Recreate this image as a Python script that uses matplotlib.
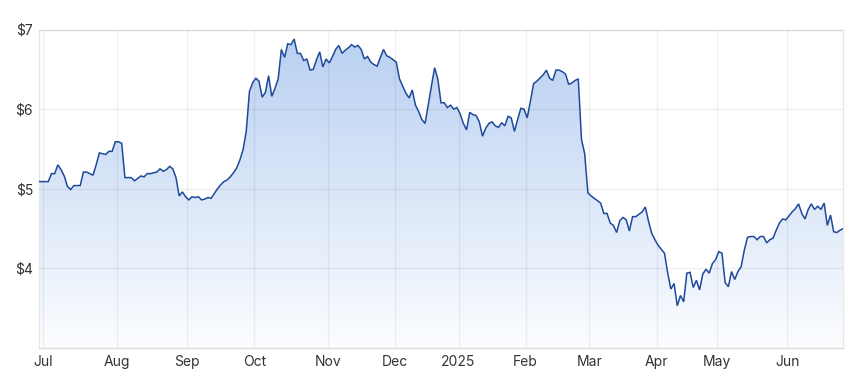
import numpy as np
import pandas as pd
import matplotlib
matplotlib.use("Agg")
import matplotlib.pyplot as plt
from matplotlib.colors import LinearSegmentedColormap

# ---- data (daily closes, ASX trading days) ----
start_date = "2024-06-27"
end_date = "2025-06-26"
holidays = ["2024-12-25", "2024-12-26", "2025-01-01", "2025-01-27",
            "2025-04-18", "2025-04-21", "2025-04-25", "2025-06-09"]

prices = [
    5.09, 5.09, 5.09, 5.09, 5.19, 5.19, 5.30, 5.24, 5.16, 5.03,
    4.99, 5.04, 5.04, 5.04, 5.21, 5.21, 5.19, 5.17, 5.30, 5.45,
    5.44, 5.43, 5.47, 5.47, 5.59, 5.59, 5.57, 5.14, 5.14, 5.14,
    5.10, 5.13, 5.16, 5.15, 5.19, 5.19, 5.20, 5.21, 5.25, 5.22,
    5.24, 5.28, 5.25, 5.14, 4.91, 4.96, 4.90, 4.86, 4.90, 4.89,
    4.90, 4.86, 4.87, 4.89, 4.88, 4.94, 5.00, 5.05, 5.09, 5.11,
    5.15, 5.20, 5.26, 5.36, 5.49, 5.72, 6.22, 6.33, 6.39, 6.35,
    6.15, 6.21, 6.42, 6.16, 6.26, 6.38, 6.75, 6.65, 6.82, 6.81,
    6.88, 6.70, 6.70, 6.61, 6.63, 6.49, 6.50, 6.62, 6.72, 6.53,
    6.63, 6.58, 6.66, 6.75, 6.80, 6.70, 6.74, 6.77, 6.81, 6.78,
    6.80, 6.75, 6.63, 6.66, 6.59, 6.56, 6.54, 6.65, 6.75, 6.67,
    6.65, 6.62, 6.59, 6.38, 6.29, 6.20, 6.14, 6.24, 6.05, 5.97,
    5.87, 5.82, 6.05, 6.29, 6.52, 6.38, 6.08, 6.08, 6.02, 6.05,
    6.00, 6.02, 5.94, 5.82, 5.74, 5.96, 5.93, 5.92, 5.84, 5.66,
    5.76, 5.82, 5.84, 5.79, 5.77, 5.83, 5.79, 5.91, 5.89, 5.72,
    5.87, 6.01, 6.00, 5.89, 6.10, 6.32, 6.35, 6.39, 6.43, 6.49,
    6.39, 6.36, 6.49, 6.49, 6.47, 6.44, 6.31, 6.33, 6.36, 6.38,
    5.62, 5.44, 4.95, 4.91, 4.88, 4.85, 4.82, 4.69, 4.69, 4.57,
    4.54, 4.45, 4.60, 4.64, 4.61, 4.47, 4.65, 4.65, 4.68, 4.71,
    4.77, 4.59, 4.44, 4.36, 4.29, 4.24, 4.19, 3.94, 3.74, 3.81,
    3.53, 3.66, 3.58, 3.94, 3.95, 3.76, 3.85, 3.73, 3.93, 3.99,
    3.94, 4.06, 4.11, 4.21, 4.19, 3.82, 3.77, 3.96, 3.86, 3.96,
    4.02, 4.23, 4.39, 4.40, 4.40, 4.36, 4.40, 4.40, 4.32, 4.36,
    4.38, 4.48, 4.57, 4.62, 4.61, 4.66, 4.71, 4.75, 4.81, 4.69,
    4.62, 4.74, 4.81, 4.74, 4.78, 4.74, 4.82, 4.54, 4.67, 4.46,
    4.45, 4.48, 4.50,
]

month_labels = ["Jul", "Aug", "Sep", "Oct", "Nov", "Dec", "2025",
                "Feb", "Mar", "Apr", "May", "Jun"]
y_ticks = [4, 5, 6, 7]
y_tick_labels = ["$4", "$5", "$6", "$7"]

# ---- build positions from the trading calendar ----
dates = pd.bdate_range(start_date, end_date, freq="C", holidays=holidays)
n = min(len(dates), len(prices))
dates = dates[:n]
y = np.array(prices[:n])
x = np.arange(n)
periods = dates.to_period("M")
first_idx = [i for i in range(1, n) if periods[i] != periods[i - 1]]
tick_pos = np.array(first_idx) - 0.5

plt.rcParams["font.family"] = ["Inter", "DejaVu Sans"]

fig = plt.figure(figsize=(8.66, 3.85), dpi=100)
ax = fig.add_axes([38.7 / 866, 1 - 348 / 385, (843.3 - 38.7) / 866, (348 - 29.5) / 385])
ax.set_xlim(0, n - 1)
ax.set_ylim(3, 7)

# gradient fill under the line
cmap = LinearSegmentedColormap.from_list("fade", ["#fcfdff", "#b7cff1"])
grad = np.linspace(0, 1, 256).reshape(-1, 1)
im = ax.imshow(grad, extent=[0, n - 1, 3, 7], origin="lower", aspect="auto",
               cmap=cmap, zorder=1, interpolation="bicubic")
poly = ax.fill_between(x, y, 3, facecolor="none", edgecolor="none")
im.set_clip_path(poly.get_paths()[0], transform=ax.transData)

ax.plot(x, y, color="#1f4a9a", lw=1.1, zorder=4, solid_joinstyle="miter")

# grid & axes
ax.set_xticks(tick_pos)
ax.set_xticklabels(month_labels)
ax.set_yticks(y_ticks)
ax.set_yticklabels(y_tick_labels)
ax.grid(True, color="black", alpha=0.06, lw=1.0, zorder=3)
ax.set_axisbelow(False)
for side, sp in ax.spines.items():
    sp.set_color("#e8e8e8")
    sp.set_linewidth(1.0)
ax.spines["bottom"].set_color("#dedede")
ax.tick_params(length=0, labelsize=10, colors="#333333")
ax.tick_params(axis="y", pad=4)
ax.tick_params(axis="x", pad=5)

fig.savefig("out.png", dpi=100)
